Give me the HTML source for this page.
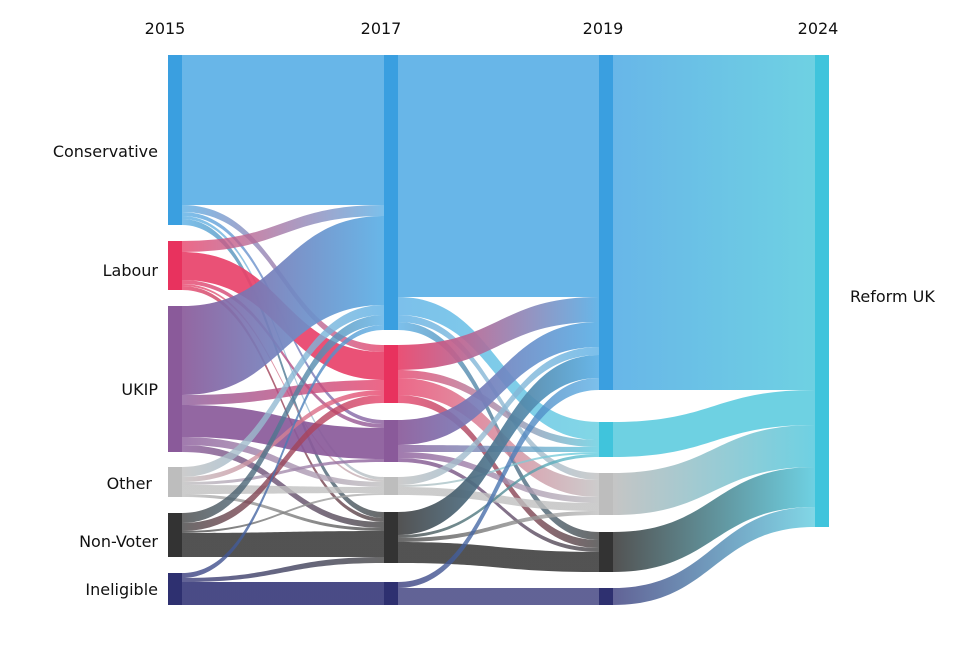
<!DOCTYPE html>
<html><head><meta charset="utf-8"><style>
body{margin:0;background:#fff;}
svg{display:block;font-family:"DejaVu Sans","Liberation Sans",sans-serif;}
</style></head><body>
<svg id="s" width="978" height="649" viewBox="0 0 978 649" xmlns="http://www.w3.org/2000/svg">
<defs id="d"></defs>
<g id="links"></g>
<g id="nodes"></g>
<g font-size="16" fill="#111">
<text x="165" y="34" text-anchor="middle">2015</text>
<text x="381" y="34" text-anchor="middle">2017</text>
<text x="603" y="34" text-anchor="middle">2019</text>
<text x="818" y="34" text-anchor="middle">2024</text>
<g text-anchor="end">
<text x="158" y="157">Conservative</text>
<text x="158" y="276">Labour</text>
<text x="158" y="395">UKIP</text>
<text x="152" y="489">Other</text>
<text x="158" y="547">Non-Voter</text>
<text x="158" y="595">Ineligible</text>
</g>
<text x="850" y="302">Reform UK</text>
</g>
</svg>
<script>
var C={con:"#3a9fe0",lab:"#e8325e",ukip:"#8a5a9a",oth:"#bdbdbd",nv:"#333333",inel:"#2e3070",ref:"#40c4dc"};
var X=[168,384,599,815],W=14;
var nodes=[
[0,"con",55,225],[0,"lab",241,290],[0,"ukip",306,452],[0,"oth",467,497],[0,"nv",513,557],[0,"inel",573,605],
[1,"con",55,330],[1,"lab",345,403],[1,"ukip",420,462],[1,"oth",477,495],[1,"nv",512,563],[1,"inel",582,605],
[2,"con",55,390],[2,"ref",422,457],[2,"oth",473,515],[2,"nv",532,572],[2,"inel",588,605],
[3,"ref",55,527]];
var L=[
[0,"con","con",55,205,55,205],[0,"con","lab",205,212,345,352],[0,"con","ukip",212,216,420,424],[0,"con","oth",216,219,477,480],[0,"con","nv",219,225,512,518],
[0,"lab","con",241,252,205,216],[0,"lab","lab",252,280,352,380],[0,"lab","ukip",280,284,424,428],[0,"lab","oth",284,286,480,482],[0,"lab","nv",286,290,518,522],
[0,"ukip","con",306,395,216,305],[0,"ukip","lab",395,405,380,390],[0,"ukip","ukip",405,437,428,459],[0,"ukip","oth",437,445,482,487],[0,"ukip","nv",445,452,522,528],
[0,"oth","con",467,477,305,315],[0,"oth","lab",477,482,390,395],[0,"oth","ukip",482,485,459,462],[0,"oth","oth",485,494,487,493],[0,"oth","nv",494,497,528,531],
[0,"nv","con",513,523,315,325],[0,"nv","lab",523,531,395,403],[0,"nv","oth",531,533,493,495],[0,"nv","nv",533,557,531,557],
[0,"inel","con",573,578,325,330],[0,"inel","nv",578,582,557,563],[0,"inel","inel",582,605,582,605],
[1,"con","con",55,297,55,297],[1,"con","ref",297,315,422,440],[1,"con","oth",315,322,473,480],[1,"con","nv",322,330,532,540],
[1,"lab","con",345,370,297,322],[1,"lab","ref",370,378,440,447],[1,"lab","oth",378,395,480,497],[1,"lab","nv",395,403,540,548],
[1,"ukip","con",420,445,322,347],[1,"ukip","ref",445,452,447,452],[1,"ukip","oth",452,458,497,503],[1,"ukip","nv",458,462,548,552],
[1,"oth","con",477,485,347,355],[1,"oth","ref",485,487,452,454],[1,"oth","oth",487,495,503,511],
[1,"nv","con",512,535,355,378],[1,"nv","ref",535,538,454,457],[1,"nv","oth",538,542,511,515],[1,"nv","nv",542,563,552,572],
[1,"inel","con",582,588,378,390],[1,"inel","inel",588,605,588,605],
[2,"con","ref",55,390,55,390],[2,"ref","ref",422,457,390,425],[2,"oth","ref",473,515,425,467],[2,"nv","ref",532,572,467,507],[2,"inel","ref",588,605,507,527]];
var ns="http://www.w3.org/2000/svg",d=document.getElementById("d"),g=document.getElementById("links"),ng=document.getElementById("nodes");
var flowCol={con:"#5bb0e6",lab:"#e8426a",ukip:"#8a5a9a",oth:"#c0c0c0",nv:"#444444",inel:"#3a3c7c",ref:"#62cde0"};
L.forEach(function(l,i){
 var x0=X[l[0]]+W,x1=X[l[0]+1],xm=(x0+x1)/2;
 var gr=document.createElementNS(ns,"linearGradient");gr.setAttribute("id","g"+i);gr.setAttribute("gradientUnits","userSpaceOnUse");
 gr.setAttribute("x1",x0);gr.setAttribute("x2",x1);gr.setAttribute("y1",0);gr.setAttribute("y2",0);
 gr.innerHTML='<stop offset="0" stop-color="'+flowCol[l[1]]+'"/><stop offset="1" stop-color="'+flowCol[l[2]]+'"/>';
 d.appendChild(gr);
 var p=document.createElementNS(ns,"path");
 p.setAttribute("d","M"+x0+" "+l[3]+"C"+xm+" "+l[3]+" "+xm+" "+l[5]+" "+x1+" "+l[5]+"L"+x1+" "+l[6]+"C"+xm+" "+l[6]+" "+xm+" "+l[4]+" "+x0+" "+l[4]+"Z");
 p.setAttribute("fill","url(#g"+i+")");p.setAttribute("fill-opacity",(l[4]-l[3]>20)?"0.92":"0.8");
 g.appendChild(p);
});
nodes.forEach(function(n){var r=document.createElementNS(ns,"rect");r.setAttribute("x",X[n[0]]);r.setAttribute("y",n[2]);r.setAttribute("width",W);r.setAttribute("height",n[3]-n[2]);r.setAttribute("fill",C[n[1]]);ng.appendChild(r);});
</script>
</body></html>
